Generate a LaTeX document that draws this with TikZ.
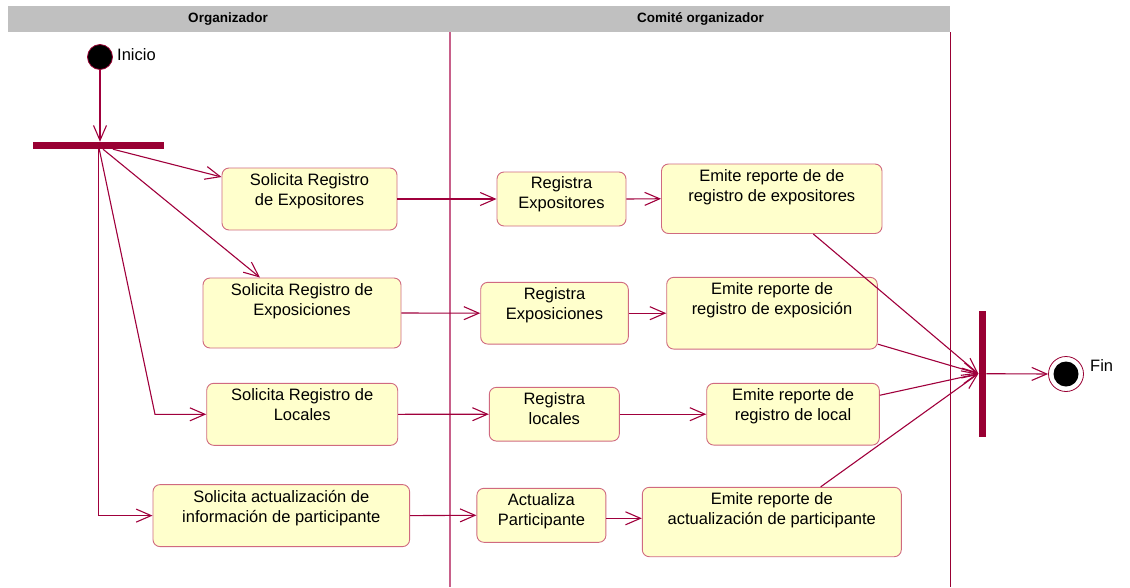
\documentclass[tikz,border=0pt]{standalone}
\usepackage{fontspec}
\setmainfont{Liberation Sans}
\usetikzlibrary{arrows.meta}
\definecolor{lnc}{HTML}{A0003C}
\definecolor{barc}{HTML}{990033}
\definecolor{boxd}{HTML}{D06A80}
\definecolor{boxf}{HTML}{FFFFCC}
\definecolor{hdrc}{HTML}{C0C0C0}
\definecolor{lanec}{HTML}{C8608A}
\begin{document}
\begin{tikzpicture}[x=1pt,y=-1pt,
  act/.style={draw=boxd, fill=boxf, rounded corners=7pt, line width=0.9pt, inner sep=0pt},
  txt/.style={anchor=north, inner sep=0pt, align=center, font=\fontsize{16.5}{20}\selectfont},
  lbl/.style={anchor=west, inner sep=0pt, font=\fontsize{16.5}{20}\selectfont},
  hdrtxt/.style={inner sep=0pt, font=\fontsize{13.5}{16}\selectfont\bfseries},
  flow/.style={draw=lnc, line width=1.1pt, -{Straight Barb[length=15pt,width=13pt]}},
  barnode/.style={fill=barc, inner sep=0pt},
]
\useasboundingbox (0,0) rectangle (1130,587);
% header and lanes
\node[fill=hdrc, minimum width=942pt, minimum height=26pt, inner sep=0pt] (header) at (479,19) {};
\node[hdrtxt] (h1) at (228,19) {Organizador};
\node[hdrtxt] (h2) at (700.5,19) {Comité organizador};
\draw[lanec, line width=1.3pt] (450,32) -- (450,587);
\draw[barc, line width=1pt] (950.5,32) -- (950.5,587);

% start, fork, join, end
\node[circle, fill=black, draw=barc, line width=0.8pt, minimum size=25pt, inner sep=0pt] (start) at (100,57) {};
\node[lbl] (lstart) at (117,55) {Inicio};
\node[barnode, minimum width=131pt, minimum height=7pt] (fork) at (98.5,145.5) {};
\node[barnode, minimum width=7.5pt, minimum height=126pt] (join) at (982.3,373.7) {};
\node[circle, draw=barc, fill=white, line width=0.8pt, minimum size=35pt, inner sep=0pt] (fin) at (1066,374) {};
\node[circle, fill=black, minimum size=25pt, inner sep=0pt] (finin) at (1066,374) {};
\node[lbl] (lfin) at (1090,366) {Fin};

% activities: Organizador
\node[act, minimum width=175pt, minimum height=62pt] (b1) at (309.5,199) {};
\node[txt] (t1) at ([yshift=-5.5pt]b1.north) {Solicita Registro\\de Expositores};
\node[act, minimum width=198pt, minimum height=70pt] (b2) at (302,313) {};
\node[txt] (t2) at ([yshift=-5.5pt]b2.north) {Solicita Registro de\\Exposiciones};
\node[act, minimum width=191pt, minimum height=62pt] (b3) at (302.2,414.3) {};
\node[txt] (t3) at ([yshift=-5.5pt]b3.north) {Solicita Registro de\\Locales};
\node[act, minimum width=256.6pt, minimum height=62pt] (b4) at (281.3,515.6) {};
\node[txt] (t4) at ([yshift=-5.5pt]b4.north) {Solicita actualización de\\información de participante};

% activities: Comité organizador
\node[act, minimum width=129pt, minimum height=54pt] (b5) at (561.5,199) {};
\node[txt] (t5) at ([yshift=-5pt]b5.north) {Registra\\Expositores};
\node[act, minimum width=147.6pt, minimum height=61.7pt] (b6) at (554.5,313.2) {};
\node[txt] (t6) at ([yshift=-5pt]b6.north) {Registra\\Exposiciones};
\node[act, minimum width=130pt, minimum height=53.7pt] (b7) at (554.3,414.2) {};
\node[txt] (t7) at ([yshift=-5pt]b7.north) {Registra\\locales};
\node[act, minimum width=129pt, minimum height=54pt] (b8) at (541.4,515.3) {};
\node[txt] (t8) at ([yshift=-5pt]b8.north) {Actualiza\\Participante};

\node[act, minimum width=220.5pt, minimum height=69.5pt] (b9) at (771.75,198.75) {};
\node[txt] (t9) at ([yshift=-5.5pt]b9.north) {Emite reporte de de\\registro de expositores};
\node[act, minimum width=210.6pt, minimum height=71.7pt] (b10) at (772,313.2) {};
\node[txt] (t10) at ([yshift=-5.5pt]b10.north) {Emite reporte de\\registro de exposición};
\node[act, minimum width=172.6pt, minimum height=61.7pt] (b11) at (793,414.2) {};
\node[txt] (t11) at ([yshift=-5.5pt]b11.north) {Emite reporte de\\registro de local};
\node[act, minimum width=259pt, minimum height=69.4pt] (b12) at (771.8,522) {};
\node[txt] (t12) at ([yshift=-5.5pt]b12.north) {Emite reporte de\\actualización de participante};

% connectors
\coordinate (c3) at (155,414.3);
\draw[flow] (start) -- (start |- fork.north);
\draw[flow] (fork) -- ([yshift=22pt]b1.west);
\draw[flow] (fork) -- ([xshift=-42pt]b2.north);
\draw[flow] (fork) -- (c3) -- (b3.west);
\draw[flow] (fork) |- (b4.west);

\draw[flow] (b1.east) -- (b5.west);
\draw[flow] (b5.east) -- (b9.west);
\draw[flow] (b2.east) -- (b6.west);
\draw[flow] (b6.east) -- (b10.west);
\draw[flow] (b3.east) -- (b7.west);
\draw[flow] (b7.east) -- (b11.west);
\draw[flow] (b4.east) -- (b8.west);
\draw[flow] ([yshift=-3pt]b8.east) -- ([yshift=-3pt]b8.east -| b12.west);

\draw[flow] (b9) -- (join.west);
\draw[flow] (b10) -- (join.west);
\draw[flow] (b11) -- (join.west);
\draw[flow] (b12) -- (join.west);
\draw[flow] (join.east) -- (fin.west);
\end{tikzpicture}
\end{document}
